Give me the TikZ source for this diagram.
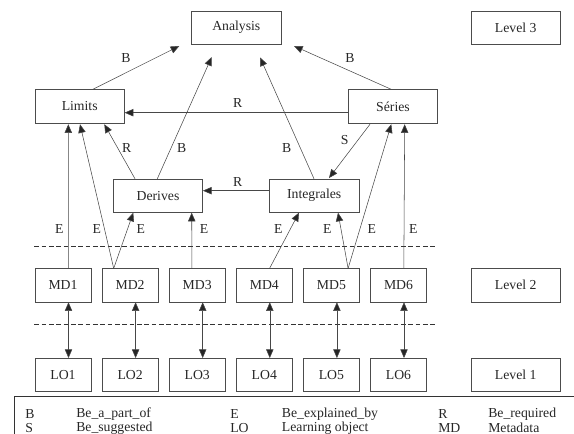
\documentclass[tikz,border=0pt]{standalone}
\usepackage{fontspec}
\setmainfont{Liberation Serif}
\usetikzlibrary{arrows.meta,calc}

\begin{document}
\begin{tikzpicture}[x=0.75pt,y=-0.75pt,
    bigbox/.style={draw=black!70, minimum width=67pt, minimum height=25pt, inner sep=0pt, text=black!85, font=\fontsize{10.3}{12}\selectfont},
    smallbox/.style={bigbox, minimum width=42pt},
    link/.style={draw=black!72, -{Triangle[length=6.5pt,width=5.5pt,fill=black!85]}},
    twoway/.style={draw=black!72, {Triangle[length=6.5pt,width=5.5pt,fill=black!85]}-{Triangle[length=6.5pt,width=5.5pt,fill=black!85]}},
    lbl/.style={inner sep=0pt, text=black!85, font=\fontsize{10.3}{12}\selectfont},
    keytext/.style={lbl, anchor=west},
    levelline/.style={draw=black!80, dash pattern=on 3.5pt off 2pt}]
            \useasboundingbox (0,0) rectangle (574,434);
            \clip (0,0) rectangle (574,434);

            \node[bigbox] (Analysis) at (236.3,27.7) {Analysis};
            \node[bigbox] (Level3) at (515.7,27.7) {Level 3};
            \node[bigbox] (Limits) at (79.7,106.3) {Limits};
            \node[bigbox] (Series) at (393,106.3) {Séries};
            \node[bigbox] (Derives) at (158,195.7) {Derives};
            \node[bigbox] (Integrales) at (314.2,195.7) {Integrales};

            \node[smallbox] (MD1) at (63,285.3) {MD1};
            \node[smallbox] (MD2) at (130.1,285.3) {MD2};
            \node[smallbox] (MD3) at (197.2,285.3) {MD3};
            \node[smallbox] (MD4) at (264.3,285.3) {MD4};
            \node[smallbox] (MD5) at (331.4,285.3) {MD5};
            \node[smallbox] (MD6) at (398.5,285.3) {MD6};
            \node[bigbox] (Level2) at (515.7,285.3) {Level 2};

            \node[smallbox] (LO1) at (63,375) {LO1};
            \node[smallbox] (LO2) at (130.1,375) {LO2};
            \node[smallbox] (LO3) at (197.2,375) {LO3};
            \node[smallbox] (LO4) at (264.3,375) {LO4};
            \node[smallbox] (LO5) at (331.4,375) {LO5};
            \node[smallbox] (LO6) at (398.5,375) {LO6};
            \node[bigbox] (Level1) at (515.7,375) {Level 1};

            \coordinate (dashA) at (34.3,246.3);
            \coordinate (dashB) at (437.3,246.3);
            \coordinate (dashC) at (34.3,324.7);
            \coordinate (dashD) at (437.3,324.7);
            \draw[levelline] (dashA) -- (dashB);
            \draw[levelline] (dashC) -- (dashD);

            \draw[link] ($(Limits.north)+(13,0)$) -- ($(Analysis.south)+(-57,1.4)$);
            \draw[link] ($(Series.north)+(-1.7,0)$) -- ($(Analysis.south)+(57.7,1.4)$);
            \draw[link] ($(Derives.north)+(-0.7,0)$) -- ($(Analysis.south)+(-24.6,12.4)$);
            \draw[link] ($(Integrales.north)+(-0.2,0)$) -- ($(Analysis.south)+(23.7,12.7)$);
            \draw[link] ($(Series.west)+(0,6.4)$) -- ($(Limits.east)+(0,6.4)$);
            \draw[link] ($(Derives.north)+(-23,0)$) -- ($(Limits.south)+(24.6,1)$);
            \draw[link] ($(Series.south)+(-23,1)$) -- ($(Integrales.north)+(14.8,-0.7)$);
            \draw[link] ($(Integrales.west)+(0,-5)$) -- ($(Derives.east)+(0,-5)$);

            \draw[link] ($(MD1.north)+(5.3,0)$) -- ($(Limits.south)+(-11.4,1)$);
            \draw[link] ($(MD2.north)+(-16.4,0)$) -- ($(Limits.south)+(0.3,1)$);
            \draw[link] ($(MD2.north)+(-16.4,0)$) -- ($(Derives.south)+(-24.7,0)$);
            \draw[link] ($(MD3.north)+(-5.3,0)$) -- ($(Derives.south)+(33.7,0)$);
            \draw[link] ($(MD4.north)+(5.3,0)$) -- ($(Integrales.south)+(-15.2,0)$);
            \draw[link] ($(MD5.north)+(16.7,0)$) -- ($(Integrales.south)+(23.8,0)$);
            \draw[link] ($(MD5.north)+(16.7,0)$) -- ($(Series.south)+(-1.7,1)$);
            \draw[link] ($(MD6.north)+(5.3,0)$) -- ($(Series.south)+(11.7,1)$);

            \draw[twoway] ($(MD1.south)+(5.5,0)$) -- ($(LO1.north)+(5.5,0)$);
            \draw[twoway] ($(MD2.south)+(5.5,0)$) -- ($(LO2.north)+(5.5,0)$);
            \draw[twoway] ($(MD3.south)+(5.5,0)$) -- ($(LO3.north)+(5.5,0)$);
            \draw[twoway] ($(MD4.south)+(5.5,0)$) -- ($(LO4.north)+(5.5,0)$);
            \draw[twoway] ($(MD5.south)+(5.5,0)$) -- ($(LO5.north)+(5.5,0)$);
            \draw[twoway] ($(MD6.south)+(5.5,0)$) -- ($(LO6.north)+(5.5,0)$);

            \node[lbl] (bLimits) at (126,58.3) {B};
            \node[lbl] (bSeries) at (350,58.3) {B};
            \node[lbl] (rSeries) at (237.7,103.3) {R};
            \node[lbl] (rDerives) at (126.7,147.7) {R};
            \node[lbl] (bDerives) at (181.7,147.7) {B};
            \node[lbl] (bIntegrales) at (286.7,147.7) {B};
            \node[lbl] (sSeries) at (344.7,140) {S};
            \node[lbl] (rIntegrales) at (237.7,181.7) {R};

            \node[lbl] (e1) at (59.3,229) {E};
            \node[lbl] (e2) at (96.7,229) {E};
            \node[lbl] (e3) at (140.7,229) {E};
            \node[lbl] (e4) at (204,229) {E};
            \node[lbl] (e5) at (278.3,229) {E};
            \node[lbl] (e6) at (327.3,229) {E};
            \node[lbl] (e7) at (371.7,229) {E};
            \node[lbl] (e8) at (413.3,229) {E};

            \draw[draw=black!80] (14,396.7) rectangle (600,460);
            \node[keytext] (keyB) at (25,413.8) {B};
            \node[keytext] (keyBtext) at (76,413.8) {Be\_a\_part\_of};
            \node[keytext] (keyE) at (230,413.8) {E};
            \node[keytext] (keyEtext) at (281.7,413.8) {Be\_explained\_by};
            \node[keytext] (keyR) at (438,413.8) {R};
            \node[keytext] (keyRtext) at (488,413.8) {Be\_required};
            \node[keytext] (keyS) at (25,427.8) {S};
            \node[keytext] (keyStext) at (76,427.8) {Be\_suggested};
            \node[keytext] (keyLO) at (230,427.8) {LO};
            \node[keytext] (keyLOtext) at (281.7,427.8) {Learning object};
            \node[keytext] (keyMD) at (438,427.8) {MD};
            \node[keytext] (keyMDtext) at (488,427.8) {Metadata};
        \end{tikzpicture}
\end{document}
